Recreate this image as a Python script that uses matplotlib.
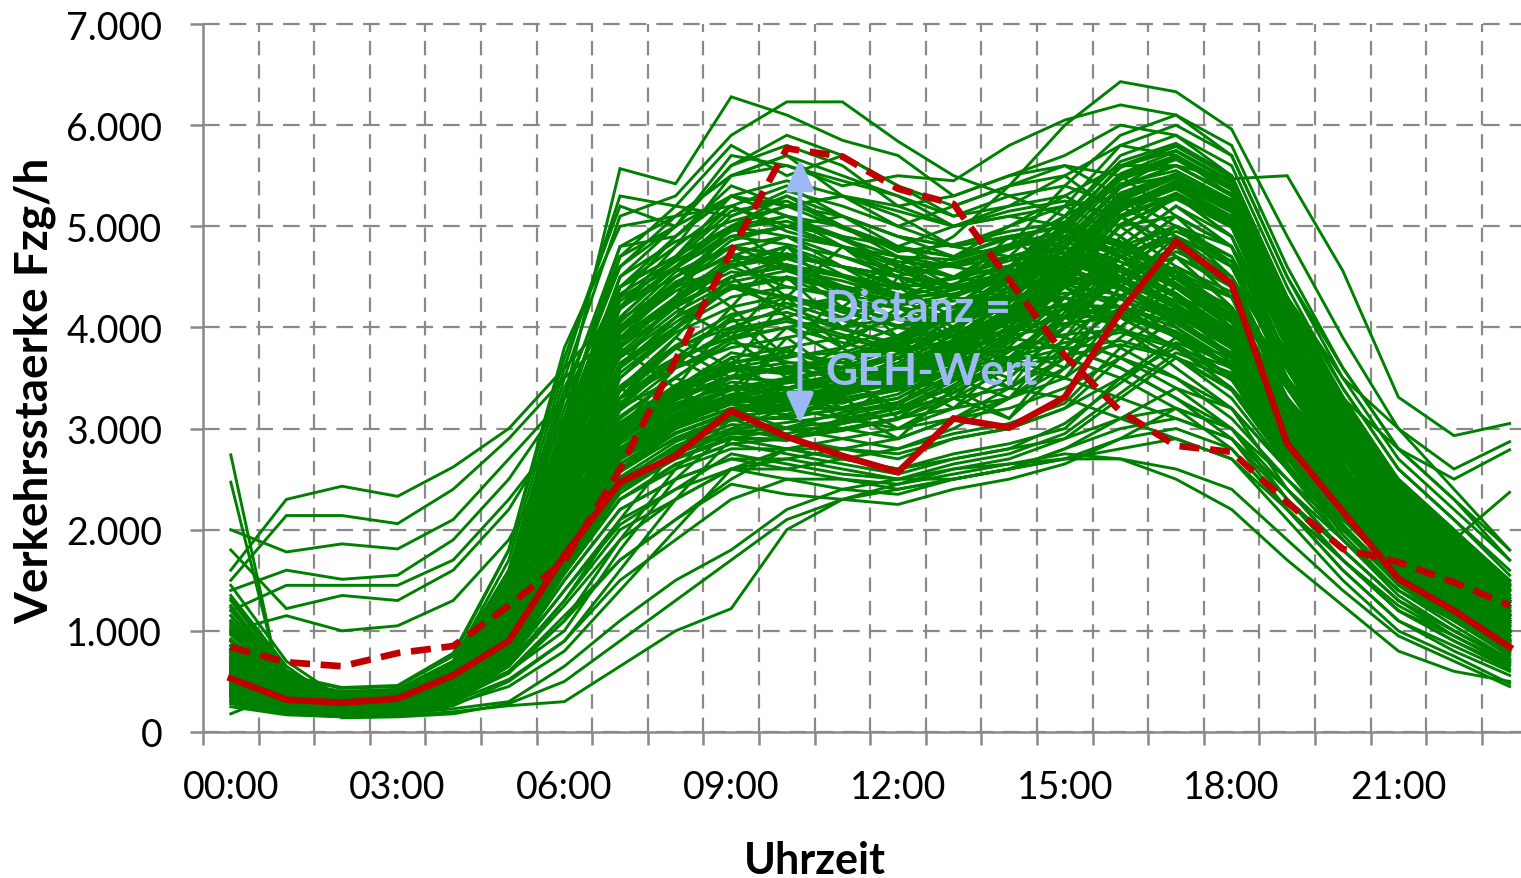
import matplotlib
matplotlib.use("Agg")
import matplotlib.pyplot as plt
import numpy as np
from matplotlib.patches import FancyArrowPatch

plt.rcParams['font.family'] = ['Lato', 'DejaVu Sans']

# ---------------- data ----------------
hours = list(range(24))
tick_positions = [0, 3, 6, 9, 12, 15, 18, 21]
tick_labels = ["00:00", "03:00", "06:00", "09:00", "12:00", "15:00", "18:00", "21:00"]
y_ticks = [0, 1000, 2000, 3000, 4000, 5000, 6000, 7000]

# highlighted profiles (veh/h per hour)
red_solid = [530, 320, 290, 330, 560, 900, 1750, 2470, 2730, 3175, 2920, 2730, 2570, 3100,
             3010, 3310, 4155, 4850, 4430, 2850, 2180, 1515, 1200, 840]
red_dashed = [840, 690, 650, 780, 850, 1250, 1690, 2600, 3680, 4750, 5770, 5690, 5370, 5220,
              4470, 3720, 3170, 2830, 2770, 2270, 1810, 1680, 1480, 1250]

# measured daily profiles (green), grouped by shape
morning_peak_lines = [
    [620, 400, 320, 350, 600, 1500, 3300, 5570, 5420, 6280, 6100, 5850, 5700, 5300, 5500, 5600, 5300, 4800, 4300, 3500, 2700, 2100, 1700, 1200],
    [1150, 520, 350, 380, 650, 1600, 3500, 5100, 5300, 5900, 6230, 6230, 5840, 5500, 5300, 5100, 4700, 4300, 3900, 3200, 2500, 2000, 1600, 1150],
    [550, 350, 280, 300, 520, 1200, 2900, 4500, 5000, 5600, 5800, 5600, 5200, 5000, 5100, 5000, 4500, 4000, 3600, 3000, 2300, 1800, 1400, 1000],
    [1300, 600, 250, 280, 480, 1100, 2600, 4200, 4800, 5500, 5700, 5300, 5000, 4800, 4700, 4600, 4300, 3900, 3500, 2800, 2200, 1700, 1300, 900],
    [800, 500, 400, 420, 700, 1700, 3600, 5300, 5200, 5800, 5500, 5700, 5400, 5100, 5200, 5300, 5000, 4600, 4100, 3400, 2700, 2200, 1800, 1300],
    [520, 320, 260, 280, 450, 1000, 2300, 3800, 4300, 5000, 5300, 5100, 4800, 4600, 4500, 4400, 4000, 3700, 3300, 2600, 2000, 1500, 1200, 850],
    [450, 280, 230, 250, 420, 950, 2200, 3600, 4100, 4700, 4900, 4700, 4500, 4300, 4200, 4100, 3800, 3500, 3100, 2500, 1900, 1400, 1100, 800],
    [1450, 700, 330, 350, 600, 1400, 3100, 4800, 5100, 5200, 5400, 5100, 4900, 4700, 4900, 5000, 4700, 4300, 3800, 3100, 2500, 1900, 1500, 1100],
    [400, 250, 200, 230, 400, 900, 2000, 3400, 3900, 4500, 4600, 4400, 4200, 4100, 4000, 3900, 3700, 3400, 3000, 2400, 1800, 1300, 1000, 700],
    [580, 360, 290, 310, 520, 1250, 2800, 4400, 4700, 5300, 5100, 4900, 4600, 4500, 4600, 4700, 4400, 4100, 3700, 3000, 2400, 1800, 1400, 1000],
    [1000, 480, 250, 270, 460, 1050, 2500, 4000, 4500, 4900, 5000, 4800, 4600, 4400, 4300, 4300, 4100, 3800, 3400, 2700, 2100, 1600, 1250, 880],
    [900, 550, 430, 450, 750, 1800, 3800, 5000, 5100, 5500, 5700, 5500, 5300, 5000, 5100, 5200, 4900, 4500, 4000, 3300, 2600, 2100, 1700, 1250],
    [430, 270, 220, 240, 410, 950, 2100, 3500, 4000, 4300, 4400, 4300, 4000, 3900, 3800, 3800, 3600, 3300, 2900, 2300, 1800, 1300, 1000, 720],
    [560, 340, 280, 300, 500, 1150, 2700, 4100, 4600, 5100, 5300, 5000, 4700, 4500, 4400, 4500, 4200, 3900, 3500, 2800, 2200, 1700, 1300, 920],
    [750, 470, 370, 390, 660, 1550, 3400, 4600, 5000, 5600, 5900, 5700, 5400, 5200, 5400, 5500, 5100, 4700, 4200, 3500, 2800, 2200, 1800, 1300],
    [380, 240, 190, 210, 360, 820, 1900, 3200, 3700, 4100, 4300, 4100, 3900, 3800, 3700, 3700, 3500, 3200, 2800, 2200, 1700, 1200, 950, 680],
    [620, 380, 300, 320, 540, 1300, 3000, 4300, 4900, 5400, 5200, 5300, 5100, 4800, 4900, 4800, 4500, 4200, 3700, 3000, 2400, 1900, 1500, 1050],
    [470, 290, 240, 260, 440, 1000, 2400, 3900, 4400, 4800, 4700, 4600, 4500, 4300, 4200, 4200, 4000, 3600, 3200, 2600, 2000, 1500, 1150, 830],
    [500, 300, 250, 270, 470, 1100, 2600, 4200, 4500, 4800, 4600, 4300, 4100, 3800, 3600, 3500, 3300, 3100, 2900, 2400, 1900, 1400, 1100, 780],
    [420, 260, 210, 230, 400, 900, 2100, 3600, 4000, 4400, 4200, 4000, 3800, 3600, 3400, 3300, 3100, 2900, 2700, 2200, 1700, 1250, 950, 680],
    [650, 400, 320, 340, 580, 1350, 3100, 4700, 5000, 5300, 5100, 4800, 4500, 4300, 4100, 3900, 3700, 3500, 3200, 2600, 2100, 1600, 1250, 900],
    [1250, 560, 270, 290, 500, 1200, 2800, 4400, 4700, 5000, 4900, 4600, 4300, 4000, 3900, 3800, 3600, 3300, 3000, 2500, 2000, 1500, 1150, 820],
]

upper_mid_lines = [
    [900, 520, 380, 400, 680, 1500, 3200, 4600, 5100, 5500, 5600, 5450, 5300, 5100, 5300, 5400, 5200, 4900, 4400, 3500, 2800, 2150, 1700, 1250],
    [750, 450, 350, 370, 620, 1400, 3000, 4400, 4900, 5300, 5450, 5300, 5150, 5000, 5150, 5250, 5100, 4800, 4300, 3400, 2700, 2050, 1650, 1200],
    [820, 480, 360, 390, 650, 1450, 3100, 4700, 5200, 5100, 5350, 5200, 5000, 5200, 5400, 5600, 5500, 5100, 4600, 3650, 2900, 2250, 1800, 1300],
    [680, 420, 330, 350, 600, 1350, 2900, 4200, 4700, 5200, 5000, 5100, 4900, 4800, 5000, 5200, 5300, 5000, 4500, 3600, 2800, 2150, 1700, 1250],
]

core_morning_lines = [
    [820, 450, 330, 360, 560, 1230, 2650, 3900, 4300, 4650, 4800, 4520, 4390, 4480, 4610, 4700, 4420, 4130, 3820, 3050, 2380, 1780, 1390, 990],
    [610, 390, 300, 330, 520, 1100, 2400, 3550, 3980, 4400, 4290, 4180, 4000, 4150, 4260, 4420, 4500, 4260, 3960, 3130, 2440, 1860, 1450, 1030],
    [1040, 520, 360, 390, 640, 1380, 2950, 4200, 4580, 4950, 5100, 4870, 4620, 4500, 4700, 4850, 4650, 4390, 3990, 3220, 2550, 1960, 1560, 1120],
    [470, 300, 240, 270, 450, 980, 2210, 3300, 3650, 3980, 4090, 3930, 3790, 3860, 3970, 4110, 4210, 4040, 3700, 2900, 2260, 1680, 1300, 900],
    [700, 420, 320, 350, 560, 1260, 2780, 3980, 4430, 4730, 4570, 4460, 4300, 4330, 4470, 4650, 4480, 4200, 3860, 3010, 2330, 1760, 1380, 980],
    [560, 350, 270, 300, 490, 1080, 2430, 3600, 4100, 4380, 4480, 4280, 4190, 4060, 4200, 4290, 4120, 3910, 3600, 2830, 2200, 1650, 1290, 890],
    [1320, 610, 340, 370, 600, 1310, 2860, 4330, 4670, 5150, 5250, 5000, 4750, 4820, 4950, 5040, 4840, 4540, 4100, 3290, 2620, 2010, 1580, 1160],
    [480, 310, 250, 270, 440, 960, 2060, 3120, 3510, 3850, 3760, 3650, 3530, 3670, 3790, 3930, 3980, 3830, 3520, 2760, 2140, 1590, 1230, 860],
    [640, 400, 310, 340, 550, 1190, 2610, 3800, 4200, 4500, 4680, 4510, 4330, 4200, 4350, 4500, 4380, 4060, 3750, 2960, 2300, 1730, 1360, 950],
    [900, 500, 360, 380, 620, 1340, 2900, 4050, 4550, 4800, 4720, 4600, 4510, 4620, 4790, 4900, 4760, 4440, 4070, 3250, 2560, 1950, 1530, 1100],
    [390, 250, 200, 230, 390, 850, 1880, 2900, 3310, 3650, 3760, 3600, 3480, 3550, 3660, 3790, 3870, 3710, 3390, 2640, 2040, 1510, 1160, 800],
    [740, 430, 330, 360, 580, 1270, 2730, 3900, 4250, 4600, 4400, 4330, 4210, 4330, 4500, 4560, 4400, 4160, 3840, 3020, 2360, 1790, 1410, 1000],
    [530, 330, 260, 290, 470, 1040, 2300, 3420, 3820, 4130, 4240, 4070, 3910, 3960, 4080, 4230, 4200, 4000, 3660, 2880, 2240, 1670, 1310, 910],
    [1150, 560, 350, 380, 610, 1360, 2980, 4400, 4800, 5200, 4950, 4800, 4650, 4600, 4770, 4970, 4820, 4500, 4130, 3300, 2610, 2010, 1590, 1150],
    [450, 290, 230, 260, 420, 920, 2080, 3180, 3600, 3880, 4000, 3850, 3700, 3780, 3910, 4040, 4100, 3950, 3600, 2830, 2190, 1620, 1260, 880],
    [680, 410, 320, 340, 560, 1220, 2690, 3870, 4230, 4500, 4620, 4410, 4290, 4430, 4600, 4740, 4580, 4320, 3940, 3110, 2440, 1850, 1440, 1040],
    [590, 370, 290, 310, 510, 1130, 2480, 3640, 4050, 4420, 4300, 4200, 4080, 4140, 4300, 4420, 4320, 4080, 3740, 2950, 2300, 1730, 1350, 950],
    [860, 480, 350, 370, 610, 1300, 2870, 4080, 4420, 4860, 5000, 4800, 4550, 4400, 4550, 4700, 4550, 4300, 3920, 3140, 2480, 1900, 1490, 1070],
    [420, 270, 210, 240, 400, 880, 1960, 3000, 3400, 3750, 3660, 3540, 3460, 3580, 3700, 3850, 3950, 3800, 3480, 2720, 2100, 1560, 1200, 830],
    [780, 440, 340, 360, 590, 1280, 2790, 3960, 4360, 4620, 4730, 4600, 4430, 4380, 4520, 4680, 4500, 4230, 3880, 3060, 2400, 1820, 1430, 1010],
    [510, 320, 250, 280, 460, 1010, 2260, 3370, 3790, 4060, 4150, 3980, 3840, 3930, 4070, 4180, 4150, 3960, 3620, 2860, 2220, 1650, 1290, 900],
    [960, 500, 350, 380, 620, 1350, 2920, 4180, 4600, 4900, 4820, 4700, 4560, 4640, 4790, 4880, 4720, 4420, 4050, 3230, 2540, 1940, 1520, 1090],
    [620, 380, 300, 320, 530, 1160, 2550, 3720, 4150, 4450, 4560, 4380, 4240, 4260, 4390, 4520, 4380, 4120, 3790, 2980, 2330, 1750, 1370, 960],
    [370, 240, 190, 220, 370, 820, 1800, 2800, 3200, 3500, 3620, 3480, 3380, 3480, 3600, 3720, 3830, 3700, 3380, 2630, 2030, 1500, 1150, 790],
    [1230, 580, 350, 380, 620, 1380, 3050, 4500, 4850, 5050, 5200, 4980, 4780, 4700, 4880, 5000, 4850, 4560, 4160, 3310, 2620, 2020, 1590, 1160],
    [700, 410, 310, 340, 550, 1200, 2650, 3830, 4280, 4550, 4480, 4380, 4260, 4370, 4520, 4640, 4460, 4190, 3830, 3030, 2380, 1800, 1420, 1000],
    [550, 340, 270, 290, 480, 1060, 2380, 3500, 3950, 4200, 4320, 4150, 4020, 4080, 4210, 4340, 4280, 4060, 3710, 2920, 2270, 1700, 1320, 920],
    [820, 460, 340, 370, 600, 1290, 2820, 4010, 4450, 4700, 4620, 4510, 4380, 4500, 4660, 4780, 4600, 4340, 3960, 3150, 2480, 1890, 1480, 1050],
    [460, 300, 230, 260, 430, 940, 2130, 3230, 3660, 3950, 4060, 3900, 3760, 3830, 3960, 4100, 4120, 3940, 3590, 2820, 2190, 1620, 1250, 870],
    [1080, 540, 340, 370, 610, 1330, 2930, 4260, 4650, 4980, 5050, 4880, 4700, 4670, 4820, 4950, 4800, 4480, 4090, 3270, 2580, 1980, 1560, 1120],
]

irregular_lines = [
    [700, 380, 300, 330, 520, 1150, 2500, 3300, 3900, 3600, 4300, 3800, 4500, 3900, 4600, 4200, 4900, 4400, 4000, 3100, 2400, 1800, 1400, 1000],
    [560, 330, 260, 290, 470, 980, 2100, 3000, 3600, 4200, 3700, 4400, 3900, 4300, 4000, 4700, 4500, 5000, 4600, 3500, 2700, 2000, 1550, 1100],
    [900, 480, 320, 350, 580, 1200, 2700, 3800, 3400, 4100, 3600, 3300, 3900, 3500, 4200, 3900, 4600, 4300, 3900, 3000, 2300, 1700, 1350, 950],
    [620, 370, 290, 320, 500, 1050, 2300, 3100, 3500, 3300, 3900, 3500, 3200, 3800, 3400, 4100, 4900, 5300, 4900, 3700, 2800, 2050, 1600, 1150],
    [480, 300, 240, 270, 440, 940, 2000, 2900, 3200, 3700, 3300, 3600, 3100, 3500, 3300, 3900, 4300, 4800, 4500, 3400, 2600, 1900, 1450, 1000],
    [1100, 540, 340, 370, 600, 1300, 2900, 4100, 4600, 4200, 4800, 4300, 4700, 4400, 4900, 4500, 5100, 4700, 4200, 3300, 2550, 1950, 1500, 1080],
    [650, 390, 300, 330, 520, 1100, 2400, 3400, 3100, 3600, 3400, 3100, 3500, 3200, 3700, 3500, 4200, 4700, 4400, 3300, 2500, 1850, 1430, 1010],
    [530, 320, 250, 280, 450, 960, 2200, 3300, 3800, 3500, 4000, 3700, 3400, 4000, 3600, 4300, 4000, 4500, 4200, 3250, 2450, 1820, 1400, 980],
    [790, 430, 320, 350, 560, 1200, 2600, 3600, 4300, 4700, 4300, 4800, 4400, 4100, 4500, 4200, 4800, 5200, 4800, 3600, 2800, 2100, 1650, 1180],
    [450, 280, 220, 250, 410, 880, 1900, 2700, 3100, 3400, 3100, 3300, 3000, 3300, 3100, 3600, 4000, 4400, 4100, 3100, 2350, 1720, 1320, 920],
    [980, 500, 340, 360, 590, 1250, 2750, 3950, 4400, 5000, 4600, 4200, 4600, 4300, 4700, 4400, 4700, 4300, 3850, 3050, 2350, 1780, 1390, 990],
    [600, 360, 280, 310, 490, 1050, 2350, 3250, 3700, 3400, 3800, 3400, 3700, 3300, 3800, 3600, 4400, 4900, 4600, 3500, 2650, 1950, 1500, 1060],
    [740, 420, 310, 340, 550, 1170, 2550, 3650, 4000, 4500, 4100, 3800, 4200, 3900, 4300, 4100, 4600, 4200, 3800, 2950, 2300, 1720, 1340, 950],
    [510, 310, 240, 270, 450, 950, 2050, 3000, 3400, 3100, 3500, 3200, 2900, 3400, 3100, 3800, 4200, 4600, 4350, 3300, 2500, 1850, 1420, 1000],
    [850, 460, 330, 360, 570, 1230, 2700, 3750, 4200, 3900, 4500, 4000, 4300, 4000, 4400, 4000, 4500, 4800, 4400, 3400, 2600, 1950, 1520, 1080],
    [580, 350, 270, 300, 480, 1020, 2250, 3200, 3500, 3900, 3500, 3800, 3400, 3700, 3500, 4000, 4700, 5100, 4800, 3600, 2750, 2000, 1560, 1100],
]

late_riser_lines = [
    [400, 250, 200, 220, 330, 600, 1000, 1800, 2500, 3000, 3200, 3100, 3000, 3100, 3300, 3500, 3900, 4300, 4100, 3100, 2300, 1700, 1300, 900],
    [350, 230, 190, 210, 300, 520, 900, 1600, 2300, 2900, 3000, 3000, 2900, 3100, 3200, 3400, 3700, 4100, 3900, 2900, 2200, 1600, 1200, 830],
    [450, 270, 210, 230, 350, 680, 1300, 2100, 2800, 3200, 3300, 3200, 3200, 3300, 3400, 3700, 4100, 4500, 4300, 3200, 2400, 1750, 1350, 950],
    [380, 240, 200, 210, 320, 580, 1100, 1900, 2600, 3100, 3100, 3000, 3100, 3200, 3300, 3600, 4000, 4400, 4200, 3050, 2300, 1650, 1250, 880],
    [300, 200, 170, 190, 280, 450, 800, 1400, 2000, 2600, 2800, 2800, 2700, 2900, 3000, 3200, 3500, 3800, 3600, 2700, 2000, 1450, 1100, 750],
]

lower_mid_lines = [
    [350, 230, 190, 210, 320, 700, 1500, 2200, 2500, 2700, 2600, 2500, 2450, 2600, 2700, 2900, 3300, 3700, 3500, 2600, 1900, 1350, 1000, 700],
    [420, 260, 210, 230, 360, 780, 1700, 2400, 2700, 2900, 2800, 2700, 2600, 2750, 2850, 3000, 3500, 3900, 3700, 2750, 2050, 1450, 1100, 760],
    [380, 240, 200, 220, 330, 650, 1250, 1900, 2300, 2600, 2500, 2400, 2350, 2500, 2600, 2800, 3100, 3400, 3200, 2400, 1800, 1300, 950, 660],
    [460, 280, 220, 240, 380, 820, 1800, 2600, 2900, 3100, 2900, 2800, 2750, 2900, 3000, 3200, 3700, 4100, 3900, 2900, 2150, 1550, 1180, 820],
    [330, 210, 180, 200, 300, 600, 1150, 1700, 2100, 2450, 2350, 2300, 2250, 2400, 2500, 2650, 2900, 3200, 3000, 2300, 1700, 1200, 900, 620],
    [500, 300, 240, 260, 400, 880, 1950, 2750, 3000, 3200, 3000, 2900, 2800, 2950, 3050, 3250, 3800, 4200, 4000, 3000, 2250, 1600, 1220, 850],
    [400, 250, 200, 220, 350, 720, 1400, 2050, 2400, 2750, 2650, 2550, 2500, 2650, 2750, 2950, 3350, 3750, 3550, 2650, 1950, 1400, 1050, 720],
    [440, 270, 210, 230, 370, 760, 1600, 2300, 2650, 2850, 2750, 2650, 2550, 2700, 2800, 3050, 3450, 3850, 3650, 2750, 2050, 1480, 1120, 780],
]

evening_peak_lines = [
    [750, 450, 350, 360, 580, 1200, 2400, 3300, 3700, 3900, 4100, 4300, 4600, 4900, 5400, 6000, 6430, 6330, 5960, 4900, 3900, 3000, 2400, 1800],
    [800, 480, 380, 400, 650, 1300, 2500, 3400, 3800, 4000, 4200, 4300, 4400, 4700, 5000, 5300, 5600, 5600, 5470, 5500, 4560, 3310, 2930, 3050],
    [600, 370, 300, 310, 500, 1000, 2000, 2800, 3100, 3300, 3500, 3400, 3700, 4100, 4300, 5000, 5600, 5800, 5500, 4300, 3300, 2500, 2000, 1500],
    [1350, 650, 270, 280, 450, 900, 1800, 2600, 2900, 3100, 3200, 3300, 3400, 3700, 4000, 4500, 5100, 5400, 5100, 3900, 3000, 2200, 1700, 1250],
    [500, 310, 250, 260, 420, 850, 1700, 2500, 2800, 3000, 2900, 3100, 3200, 3400, 3700, 4200, 4800, 5200, 4900, 3700, 2800, 2000, 1600, 1150],
    [650, 400, 320, 330, 530, 1050, 2100, 2900, 3300, 3500, 3600, 3700, 3900, 4200, 4600, 5100, 5700, 5900, 5600, 4400, 3400, 2600, 2100, 1600],
    [450, 280, 220, 230, 380, 780, 1600, 2300, 2600, 2800, 2800, 2900, 3000, 3200, 3500, 4000, 4600, 5000, 4700, 3500, 2600, 1900, 1500, 1050],
    [580, 350, 280, 290, 470, 950, 1900, 2700, 3000, 3300, 3200, 3400, 3500, 3800, 4100, 4600, 5300, 5500, 5200, 4000, 3100, 2300, 1800, 1350],
    [700, 430, 340, 350, 560, 1100, 2200, 3000, 3400, 3700, 3800, 3900, 4100, 4400, 4800, 5400, 5900, 6100, 5800, 4600, 3600, 2800, 2300, 1800],
    [420, 260, 210, 220, 360, 740, 1500, 2200, 2500, 2700, 2700, 2800, 2900, 3100, 3400, 3800, 4400, 4800, 4500, 3300, 2400, 1800, 1400, 950],
    [1100, 520, 260, 270, 440, 880, 1800, 2600, 2900, 3100, 3100, 3200, 3300, 3600, 3900, 4400, 5000, 5300, 5000, 3800, 2900, 2100, 1650, 1200],
    [620, 380, 300, 310, 500, 1000, 2000, 2800, 3200, 3400, 3500, 3600, 3700, 4000, 4300, 4800, 5400, 5700, 5400, 4200, 3200, 2400, 1900, 1450],
    [480, 290, 230, 240, 400, 820, 1700, 2400, 2700, 2900, 2900, 3000, 3100, 3300, 3600, 4100, 4700, 5100, 4800, 3600, 2700, 2000, 1550, 1100],
    [560, 340, 270, 280, 460, 920, 1850, 2650, 2950, 3150, 3250, 3350, 3450, 3750, 4050, 4550, 5150, 5450, 5150, 3950, 3050, 2250, 1750, 1300],
    [400, 240, 190, 200, 340, 700, 1400, 2100, 2400, 2600, 2600, 2700, 2800, 3000, 3300, 3700, 4300, 4600, 4300, 3100, 2300, 1700, 1300, 900],
    [680, 410, 330, 340, 540, 1080, 2150, 2950, 3350, 3600, 3700, 3800, 4000, 4300, 4700, 5200, 5800, 6000, 5700, 4500, 3500, 2700, 2200, 1700],
    [460, 280, 220, 230, 390, 800, 1650, 2450, 2750, 2950, 2950, 3050, 3150, 3350, 3650, 4150, 4750, 5000, 4650, 3450, 2550, 1900, 1450, 1000],
    [600, 360, 290, 300, 480, 970, 1950, 2750, 3050, 3250, 3350, 3450, 3550, 3850, 4150, 4650, 5250, 5500, 5250, 4050, 3150, 2350, 1850, 1400],
]

core_evening_lines = [
    [640, 380, 290, 310, 500, 1010, 2050, 2900, 3250, 3420, 3380, 3550, 3700, 3980, 4280, 4820, 5380, 5600, 5320, 4150, 3200, 2400, 1880, 1400],
    [520, 320, 250, 270, 440, 880, 1820, 2600, 2950, 3170, 3280, 3250, 3420, 3700, 4010, 4520, 4800, 5000, 4800, 3890, 2960, 2180, 1700, 1250],
    [1200, 560, 300, 310, 500, 1000, 2010, 2850, 3180, 3400, 3330, 3500, 3620, 3880, 4250, 4790, 5420, 5550, 5260, 4050, 3110, 2320, 1810, 1350],
    [450, 290, 230, 240, 400, 790, 1650, 2420, 2780, 2990, 3060, 3130, 3240, 3500, 3850, 4200, 4500, 4700, 4450, 3710, 2800, 2060, 1600, 1150],
    [720, 420, 320, 340, 540, 1070, 2150, 3020, 3380, 3600, 3550, 3690, 3850, 4150, 4500, 5030, 5590, 5750, 5450, 4240, 3270, 2450, 1960, 1470],
    [580, 350, 270, 290, 470, 950, 1930, 2730, 3070, 3280, 3360, 3380, 3530, 3830, 4130, 4640, 5200, 5450, 5180, 3980, 3040, 2250, 1760, 1300],
    [980, 490, 280, 290, 470, 930, 1880, 2700, 3010, 3200, 3180, 3330, 3450, 3720, 4070, 4600, 5230, 5400, 5020, 3880, 2980, 2190, 1720, 1280],
    [410, 260, 210, 220, 370, 740, 1560, 2300, 2640, 2850, 2900, 2980, 3090, 3360, 3700, 4000, 4300, 4550, 4300, 3580, 2700, 1980, 1530, 1100],
    [670, 400, 310, 320, 520, 1040, 2100, 2950, 3320, 3520, 3590, 3610, 3800, 4070, 4400, 4950, 5500, 5700, 5390, 4170, 3220, 2400, 1910, 1420],
    [540, 330, 260, 270, 450, 900, 1860, 2650, 3000, 3200, 3140, 3300, 3400, 3680, 4000, 4500, 5110, 5300, 5060, 3860, 2930, 2150, 1680, 1240],
    [850, 470, 290, 300, 490, 980, 1990, 2810, 3150, 3380, 3450, 3520, 3650, 3920, 4240, 4780, 5330, 5520, 5230, 4060, 3120, 2330, 1830, 1360],
    [470, 300, 240, 250, 410, 820, 1710, 2480, 2830, 3040, 3010, 3160, 3260, 3540, 3880, 4400, 4700, 4950, 4700, 3740, 2820, 2080, 1620, 1170],
    [760, 430, 320, 340, 550, 1090, 2190, 3060, 3430, 3650, 3720, 3750, 3920, 4200, 4560, 5100, 5640, 5820, 5500, 4290, 3320, 2490, 1980, 1500],
    [600, 360, 280, 300, 480, 970, 1960, 2760, 3110, 3320, 3280, 3440, 3570, 3860, 4170, 4700, 5270, 5500, 5200, 4000, 3070, 2280, 1780, 1320],
    [1060, 520, 290, 300, 480, 960, 1930, 2740, 3060, 3260, 3320, 3370, 3510, 3780, 4120, 4660, 5170, 5370, 5060, 3920, 3000, 2230, 1740, 1290],
    [430, 270, 220, 230, 380, 770, 1600, 2360, 2710, 2920, 2880, 3050, 3160, 3430, 3760, 4100, 4450, 4750, 4500, 3640, 2750, 2020, 1570, 1120],
    [690, 410, 310, 330, 530, 1060, 2120, 2980, 3350, 3570, 3650, 3650, 3830, 4110, 4450, 4980, 5470, 5680, 5380, 4180, 3230, 2420, 1920, 1440],
    [500, 310, 250, 260, 430, 860, 1790, 2570, 2910, 3120, 3180, 3210, 3340, 3620, 3950, 4460, 5080, 5300, 5030, 3830, 2900, 2130, 1660, 1220],
    [810, 450, 300, 310, 500, 1010, 2050, 2880, 3220, 3460, 3400, 3560, 3700, 3970, 4320, 4860, 5400, 5600, 5320, 4120, 3170, 2370, 1870, 1390],
    [560, 340, 260, 280, 460, 920, 1890, 2690, 3040, 3250, 3300, 3340, 3460, 3760, 4070, 4580, 5170, 5420, 5140, 3920, 2990, 2210, 1720, 1280],
    [920, 480, 290, 300, 480, 980, 1960, 2760, 3090, 3310, 3260, 3430, 3560, 3840, 4180, 4720, 5300, 5490, 5180, 3980, 3060, 2270, 1770, 1320],
    [490, 300, 240, 250, 420, 840, 1740, 2520, 2870, 3080, 3120, 3190, 3300, 3580, 3920, 4430, 5020, 5270, 4990, 3780, 2860, 2100, 1630, 1190],
    [650, 390, 300, 320, 510, 1030, 2080, 2920, 3280, 3500, 3470, 3590, 3740, 4010, 4360, 4900, 5460, 5660, 5360, 4150, 3200, 2390, 1890, 1410],
    [440, 280, 220, 230, 390, 780, 1630, 2400, 2750, 2960, 3010, 3070, 3200, 3470, 3810, 4310, 4600, 4900, 4650, 3670, 2770, 2030, 1580, 1140],
    [730, 420, 310, 330, 530, 1070, 2140, 3000, 3370, 3590, 3540, 3690, 3840, 4120, 4470, 5000, 5520, 5740, 5430, 4220, 3260, 2440, 1940, 1460],
    [610, 370, 280, 300, 480, 980, 1980, 2780, 3130, 3340, 3400, 3440, 3580, 3870, 4190, 4720, 5250, 5480, 5210, 4010, 3080, 2290, 1790, 1330],
    [1020, 500, 280, 290, 470, 940, 1900, 2720, 3040, 3240, 3200, 3350, 3480, 3750, 4090, 4630, 5200, 5380, 5070, 3900, 2990, 2210, 1730, 1280],
    [520, 320, 250, 260, 440, 880, 1830, 2610, 2960, 3160, 3230, 3270, 3380, 3660, 3990, 4490, 5090, 5330, 5050, 3860, 2920, 2140, 1670, 1230],
    [790, 440, 320, 340, 540, 1080, 2170, 3040, 3400, 3620, 3570, 3720, 3880, 4160, 4510, 5040, 5580, 5790, 5480, 4270, 3300, 2480, 1970, 1490],
    [570, 350, 270, 290, 460, 940, 1920, 2730, 3080, 3290, 3330, 3390, 3530, 3820, 4130, 4650, 5200, 5440, 5170, 3970, 3040, 2250, 1760, 1300],
]

both_peak_lines = [
    [900, 560, 440, 460, 780, 1800, 3700, 5200, 5000, 5700, 5600, 5400, 5500, 5450, 5800, 6050, 6200, 6100, 5700, 4500, 3600, 2800, 2300, 1700],
    [820, 500, 400, 420, 700, 1600, 3300, 4800, 4900, 5300, 5200, 5300, 5200, 5300, 5500, 5700, 6000, 5900, 5500, 4300, 3400, 2600, 2100, 1550],
    [750, 460, 370, 390, 640, 1450, 3000, 4300, 4600, 4900, 5000, 4900, 4800, 5000, 5200, 5500, 5800, 5700, 5300, 4100, 3200, 2500, 2000, 1450],
]

late_evening_lines = [
    [600, 380, 300, 320, 520, 1100, 2300, 3300, 3600, 3800, 3900, 4000, 4100, 4300, 4600, 5000, 5500, 5600, 5300, 4300, 3500, 3000, 2600, 2870],
    [700, 420, 340, 350, 560, 1150, 2400, 3400, 3700, 3900, 4000, 4100, 4300, 4500, 4800, 5100, 5400, 5500, 5200, 4100, 3300, 2800, 2500, 2790],
    [550, 330, 270, 280, 460, 950, 2000, 3000, 3300, 3500, 3600, 3700, 3800, 4000, 4300, 4700, 5200, 5300, 4900, 3800, 2900, 2300, 1900, 2370],
]

low_volume_lines = [
    [300, 190, 160, 180, 300, 650, 1300, 2000, 2300, 2600, 2700, 2600, 2500, 2500, 2600, 2700, 2900, 3000, 2800, 2200, 1600, 1100, 850, 600],
    [280, 180, 150, 170, 260, 500, 900, 1500, 1900, 2300, 2500, 2500, 2400, 2500, 2600, 2800, 3000, 3100, 2900, 2200, 1600, 1100, 800, 560],
    [350, 220, 180, 200, 320, 600, 1100, 1700, 2100, 2500, 2800, 2700, 2600, 2700, 2800, 2900, 3100, 3200, 3000, 2300, 1700, 1200, 900, 650],
    [250, 170, 150, 160, 200, 260, 300, 650, 1000, 1220, 2000, 2300, 2400, 2500, 2600, 2700, 2800, 2900, 2700, 2100, 1500, 1000, 750, 480],
    [320, 200, 170, 180, 230, 300, 650, 1100, 1500, 1800, 2200, 2400, 2500, 2600, 2650, 2700, 2700, 2600, 2400, 1900, 1400, 950, 700, 450],
    [180, 400, 140, 150, 180, 280, 500, 900, 1300, 1700, 2100, 2300, 2450, 2550, 2650, 2750, 2700, 2500, 2200, 1700, 1250, 800, 600, 500],
]

night_outlier_lines = [
    [2740, 200, 180, 200, 320, 700, 1600, 2600, 3000, 3300, 3400, 3500, 3600, 3800, 4100, 4500, 5000, 5100, 4800, 3700, 2800, 2100, 1700, 1300],
    [2470, 260, 200, 220, 350, 800, 1800, 2900, 3300, 3500, 3600, 3500, 3400, 3600, 3900, 4300, 4700, 4900, 4500, 3400, 2600, 2000, 1500, 1100],
    [1600, 2300, 2430, 2330, 2620, 3000, 3600, 4200, 4600, 5000, 5100, 5000, 4800, 4700, 4800, 4900, 4700, 4400, 4000, 3300, 2700, 2200, 1900, 1500],
    [1500, 2140, 2140, 2060, 2400, 2900, 3500, 4000, 4500, 4800, 4900, 4800, 4700, 4600, 4700, 4800, 4600, 4300, 3900, 3200, 2600, 2100, 1800, 1400],
    [2000, 1780, 1860, 1810, 2100, 2700, 3300, 3800, 4300, 4600, 4700, 4600, 4500, 4400, 4500, 4600, 4400, 4100, 3700, 3000, 2400, 1900, 1600, 1200],
    [1400, 1600, 1510, 1550, 1900, 2500, 3300, 4400, 4700, 5000, 5200, 5100, 4900, 4800, 4900, 5000, 4800, 4500, 4100, 3400, 2800, 2300, 1900, 1450],
    [1200, 1450, 1450, 1450, 1700, 2300, 3000, 3900, 4200, 4500, 4600, 4500, 4300, 4200, 4300, 4400, 4200, 3900, 3500, 2900, 2300, 1800, 1500, 1150],
    [1800, 1220, 1350, 1300, 1600, 2200, 3100, 4000, 4400, 4600, 4800, 4600, 4400, 4300, 4500, 4700, 4600, 4200, 3800, 3100, 2500, 2000, 1600, 1200],
    [1000, 1150, 1000, 1050, 1300, 1900, 2900, 3700, 4100, 4400, 4500, 4400, 4200, 4100, 4200, 4300, 4100, 3800, 3400, 2800, 2200, 1700, 1400, 1100],
]

annotation_lines = ["Distanz =", "GEH-Wert"]

# ---------------- styling ----------------
W, H = 1521, 879
GRID = '#898989'
GREEN = '#008000'
RED = '#C00000'
BLUE = '#9DB9F3'

fig = plt.figure(figsize=(W / 100, H / 100), dpi=100)
cat_w = 55.6
ax = fig.add_axes([203 / W, (H - 733) / H, 24 * cat_w / W, 708 / H])
ax.set_xlim(-0.5, 23.5)
ax.set_ylim(0, 7000)

green_groups = [morning_peak_lines, upper_mid_lines, core_morning_lines, irregular_lines,
                late_riser_lines, lower_mid_lines, evening_peak_lines, core_evening_lines,
                both_peak_lines, late_evening_lines, low_volume_lines, night_outlier_lines]
for group in green_groups:
    for prof in group:
        ax.plot(hours, prof, color=GREEN, lw=2.1, zorder=2, solid_joinstyle='miter')

ax.plot(hours, red_dashed, color=RED, lw=4.8, linestyle=(0, (3.0, 1.6)), zorder=4)
ax.plot(hours, red_solid, color=RED, lw=4.8, zorder=5, solid_joinstyle='miter')

# axes / ticks
ax.set_xticks(tick_positions)
ax.set_xticklabels(tick_labels)
ax.set_xticks(np.arange(-0.5, 24.0, 1.0), minor=True)
ax.set_yticks(y_ticks)
ax.set_yticklabels([f"{v:,}".replace(",", ".") for v in y_ticks])

ax.tick_params(axis='x', which='major', length=0, pad=27, labelsize=27)
ax.tick_params(axis='x', which='minor', length=9.4, width=1.8, color=GRID, direction='out')
ax.tick_params(axis='y', which='major', length=9.4, width=1.8, color=GRID, direction='out',
               pad=20, labelsize=27)

ax.set_axisbelow(True)
ax.grid(which='minor', axis='x', color=GRID, lw=1.6, linestyle=(0, (6.5, 4)))
ax.grid(which='major', axis='y', color=GRID, lw=1.6, linestyle=(0, (7.5, 4.5)))
ax.grid(which='major', axis='x', visible=False)
for gl in ax.yaxis.get_gridlines():
    gl.set_clip_on(False)

for s in ['top', 'right']:
    ax.spines[s].set_visible(False)
for s in ['left', 'bottom']:
    ax.spines[s].set_color(GRID)
    ax.spines[s].set_linewidth(1.8)

# axis titles
fig.text(35 / W, 1 - 391 / H, "Verkehrsstaerke Fzg/h", rotation=90, ha='center', va='center',
         fontsize=33, fontweight='bold')
fig.text(815 / W, 1 - 861 / H, "Uhrzeit", ha='center', va='center', fontsize=31, fontweight='bold')

# annotation arrow & text
def px2x(px):
    return (px - 203) / cat_w - 0.5

def py2y(py):
    return (733 - py) * 7000 / 708

arrow = FancyArrowPatch((px2x(800), py2y(160)), (px2x(800), py2y(425)),
                        arrowstyle='<|-|>,head_length=1.0,head_width=0.45',
                        mutation_scale=18, lw=3.5, color=BLUE, shrinkA=0, shrinkB=0, zorder=6)
ax.add_patch(arrow)
ax.text(px2x(825), py2y(309), annotation_lines[0], ha='left', va='center', fontsize=32,
        fontweight='bold', color=BLUE, zorder=7)
ax.text(px2x(825), py2y(372), annotation_lines[1], ha='left', va='center', fontsize=32,
        fontweight='bold', color=BLUE, zorder=7)

fig.savefig("out.png", dpi=100)
